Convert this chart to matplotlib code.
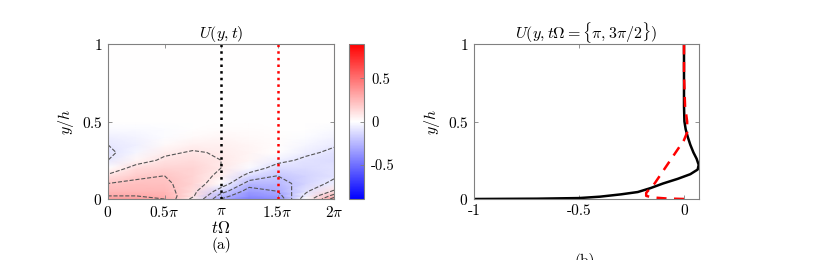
import numpy as np
import matplotlib
matplotlib.use('Agg')
import matplotlib.pyplot as plt

plt.rcParams['mathtext.fontset'] = 'cm'
plt.rcParams['font.family'] = ['cmr10', 'DejaVu Serif']
plt.rcParams['axes.unicode_minus'] = False

# field U(y,t): time columns in units of pi, rows in y/h
t_pi = [0, 0.25, 0.5, 0.75, 1.0, 1.25, 1.5, 1.75, 2.0]
y_grid = [0, 0.02, 0.05, 0.1, 0.15, 0.2, 0.25, 0.3, 0.35, 0.4, 0.45, 0.5, 1.0]
U_field = [
    [0.35, 0.35, 0.30, 0.05, -0.30, -0.45, -0.40, 0.00, 0.35],
    [0.30, 0.30, 0.28, 0.10, -0.25, -0.40, -0.35, -0.05, 0.25],
    [0.25, 0.25, 0.25, 0.12, -0.15, -0.35, -0.30, -0.10, 0.10],
    [0.20, 0.22, 0.22, 0.15, 0.00, -0.25, -0.25, -0.15, -0.05],
    [0.10, 0.18, 0.20, 0.15, 0.05, -0.12, -0.20, -0.15, -0.10],
    [0.00, 0.12, 0.15, 0.15, 0.08, -0.02, -0.12, -0.12, -0.10],
    [-0.08, 0.03, 0.10, 0.12, 0.08, 0.03, -0.05, -0.10, -0.12],
    [-0.10, -0.03, 0.06, 0.09, 0.07, 0.04, 0.00, -0.06, -0.10],
    [-0.08, -0.05, 0.02, 0.05, 0.05, 0.03, 0.01, -0.03, -0.07],
    [-0.05, -0.04, -0.01, 0.02, 0.03, 0.02, 0.01, -0.01, -0.04],
    [-0.02, -0.02, -0.01, 0.00, 0.01, 0.01, 0.00, 0.00, -0.02],
    [0.0, 0.0, 0.0, 0.0, 0.0, 0.0, 0.0, 0.0, 0.0],
    [0.0, 0.0, 0.0, 0.0, 0.0, 0.0, 0.0, 0.0, 0.0],
]
contour_levels = [-0.3, -0.2, -0.08, 0.08, 0.2, 0.3]

# profiles at t*Omega = pi (black) and 3pi/2 (red)
y_pi = [0, 0.002, 0.006, 0.015, 0.03, 0.045, 0.07, 0.1, 0.13, 0.16, 0.19, 0.22,
        0.26, 0.3, 0.35, 0.4, 0.45, 0.5, 0.6, 1.0]
U_pi = [-1.0, -0.7, -0.5, -0.4, -0.3, -0.22, -0.16, -0.1, -0.03, 0.03, 0.065, 0.07,
        0.06, 0.045, 0.03, 0.018, 0.008, 0.002, 0.0, 0.0]
y_3pi2 = [0, 0.003, 0.01, 0.02, 0.04, 0.1, 0.2, 0.3, 0.38, 0.43, 0.5, 0.6, 0.8, 1.0]
U_3pi2 = [0, -0.08, -0.15, -0.18, -0.18, -0.14, -0.09, -0.04, 0.0, 0.015, 0.015, 0.005, 0.0, 0.0]

W, H = 830, 260
fig = plt.figure(figsize=(8.3, 2.6), dpi=100)
spine_col = '#808080'
fs = 11

def style_axes(ax):
    for s in ax.spines.values():
        s.set_color(spine_col)
        s.set_linewidth(0.8)
    ax.tick_params(direction='in', top=True, right=True, length=3, width=0.6,
                   color=spine_col, labelsize=fs, pad=4)

# (a) heatmap
ax1 = fig.add_axes([108 / W, 1 - 199 / H, 226 / W, 155 / H])
t = np.array(t_pi) * np.pi
Y = np.array(y_grid)
Z = np.array(U_field)
mesh = ax1.pcolormesh(t, Y, Z, cmap='bwr', vmin=-0.9, vmax=0.9, shading='gouraud')
ax1.contour(t, Y, Z, levels=contour_levels, colors='#555555', linestyles='--', linewidths=0.8)
ax1.axvline(np.pi, color='black', ls=':', lw=1.8)
ax1.axvline(1.5 * np.pi, color='red', ls=':', lw=1.8)
ax1.set_xlim(0, 2 * np.pi)
ax1.set_ylim(0, 1)
ax1.set_xticks(np.array([0, 0.5, 1, 1.5, 2]) * np.pi)
ax1.set_xticklabels(['$0$', r'$0.5\pi$', r'$\pi$', r'$1.5\pi$', r'$2\pi$'])
ax1.set_yticks([0, 0.5, 1])
ax1.set_yticklabels(['$0$', '$0.5$', '$1$'])
style_axes(ax1)
ax1.set_title('$U(y,t)$', fontsize=fs + 0.5, pad=4)
ax1.set_ylabel('$y/h$', fontsize=fs + 0.5, labelpad=4)
ax1.set_xlabel(r'$t\Omega$', fontsize=fs + 1, labelpad=0)
fig.text(221 / W, 1 - 245 / H, '(a)', ha='center', va='center', fontsize=fs)

cax = fig.add_axes([348.7 / W, 1 - 199 / H, 15.3 / W, 155 / H])
cb = fig.colorbar(mesh, cax=cax)
cb.set_ticks([-0.5, 0, 0.5])
cb.set_ticklabels(['-0.5', '0', '0.5'])
cb.outline.set_edgecolor(spine_col)
cb.outline.set_linewidth(0.8)
cax.tick_params(direction='in', length=3, width=0.6, color=spine_col, labelsize=fs - 0.5, pad=5)

# (b) profiles
ax2 = fig.add_axes([474 / W, 1 - 199 / H, 224.7 / W, 155 / H])
ax2.plot(U_pi, y_pi, color='black', lw=1.8)
ax2.plot(U_3pi2, y_3pi2, color='red', ls=(0, (4, 3)), lw=1.8)
ax2.set_xlim(-1, 0.07)
ax2.set_ylim(0, 1)
ax2.set_xticks([-1, -0.5, 0])
ax2.set_xticklabels(['-1', '-0.5', '0'])
ax2.set_yticks([0, 0.5, 1])
ax2.set_yticklabels(['$0$', '$0.5$', '$1$'])
style_axes(ax2)
ax2.set_title(r'$U(y,t\Omega=\{\pi,3\pi/2\})$', fontsize=fs + 0.5, pad=4)
ax2.set_ylabel('$y/h$', fontsize=fs + 0.5, labelpad=4)
fig.text(585 / W, 1 - 253 / H, '(b)', ha='center', va='top', fontsize=fs)

fig.savefig('out.png', dpi=100)
